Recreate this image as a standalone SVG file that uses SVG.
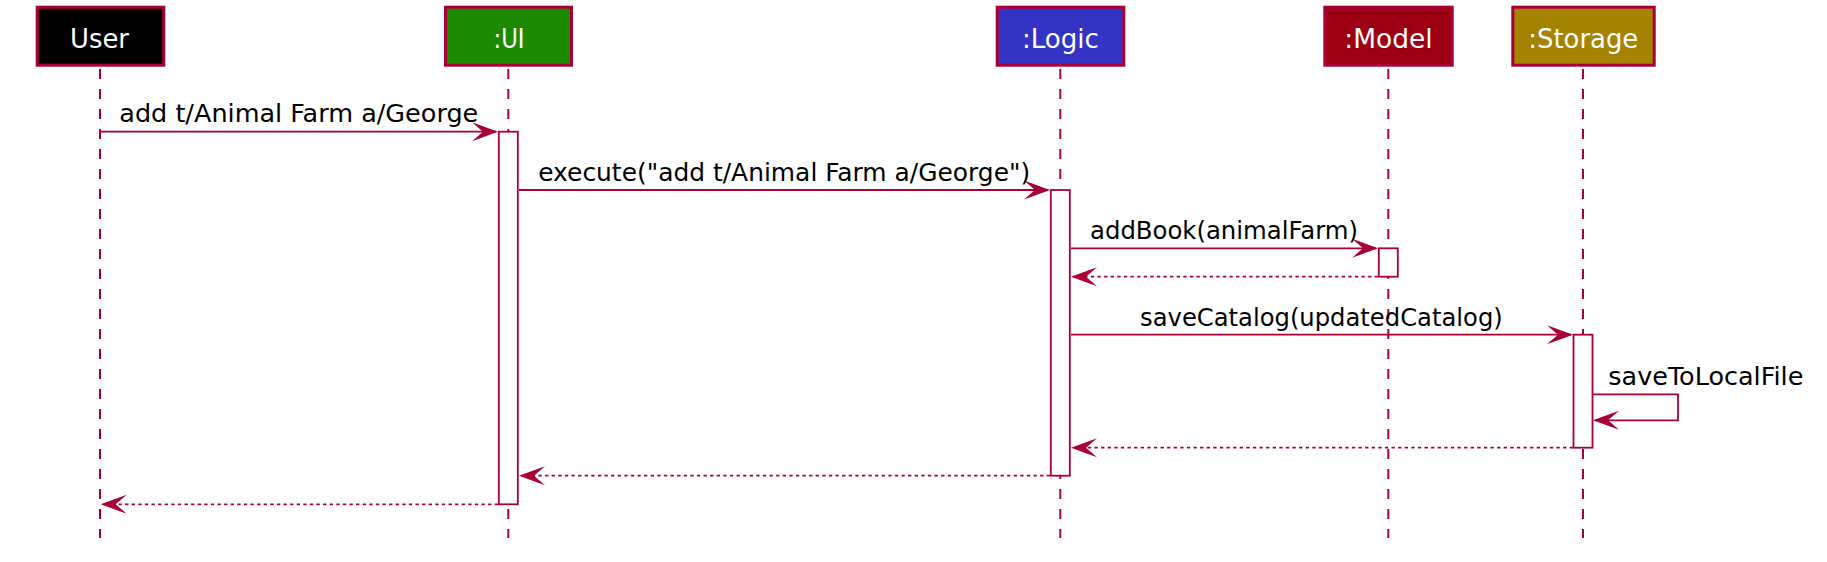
<svg xmlns="http://www.w3.org/2000/svg" width="1827" height="562" viewBox="0 0 1827 562">
<style>
.hdr{stroke:#A80036;stroke-width:3}
.ht{font-family:"DejaVu Sans","Liberation Sans",sans-serif;font-size:26px;fill:#FFFFFF;text-anchor:middle}
.life{stroke:#A80036;stroke-width:2;stroke-dasharray:10,10;fill:none}
.act{fill:#FFFFFF;stroke:#A80036;stroke-width:1.8}
.msg{stroke:#A80036;stroke-width:1.8;fill:none;marker-end:url(#ah)}
.ret{stroke:#A80036;stroke-width:1.8;fill:none;stroke-dasharray:3.3,3.3;marker-end:url(#ah)}
.mt{font-family:"DejaVu Sans","Liberation Sans",sans-serif;font-size:25px;fill:#000000;text-anchor:middle}
</style>
<defs>
<marker id="ah" markerUnits="userSpaceOnUse" markerWidth="28" markerHeight="21" viewBox="0 0 28 21" refX="24" refY="10.5" orient="auto">
<path d="M26,10.5 L0,1 L11,10.5 L0,20 Z" fill="#A80036" stroke="none"/>
</marker>
</defs>
<rect width="1827" height="562" fill="#FFFFFF"/>
<g id="lifelines">
<line class="life" x1="100" y1="69" x2="100" y2="538"/>
<line class="life" x1="508.3" y1="69" x2="508.3" y2="538"/>
<line class="life" x1="1060.3" y1="69" x2="1060.3" y2="538"/>
<line class="life" x1="1388.3" y1="69" x2="1388.3" y2="538"/>
<line class="life" x1="1583" y1="69" x2="1583" y2="538"/>
</g>
<g id="user">
<rect class="hdr" x="37.2" y="7.2" width="126.6" height="58" fill="#000000"/>
<text class="ht" x="99.5" y="47.5" textLength="59" lengthAdjust="spacingAndGlyphs">User</text>
</g>
<g id="ui">
<rect class="hdr" x="445.5" y="7.2" width="126" height="58" fill="#1D8900"/>
<text class="ht" x="509" y="47.5" textLength="31" lengthAdjust="spacingAndGlyphs">:UI</text>
<rect class="act" x="498.8" y="131.7" width="19" height="372.6"/>
</g>
<g id="logic">
<rect class="hdr" x="997.2" y="7.2" width="126.6" height="58" fill="#3333C4"/>
<text class="ht" x="1060.4" y="47.5" textLength="77" lengthAdjust="spacingAndGlyphs">:Logic</text>
<rect class="act" x="1050.8" y="190" width="19" height="285.7"/>
</g>
<g id="model">
<rect class="hdr" x="1324.8" y="7.2" width="127.4" height="58" fill="#9D0012"/>
<text class="ht" x="1388.5" y="47.5" textLength="88.4" lengthAdjust="spacingAndGlyphs">:Model</text>
<rect class="act" x="1378.8" y="248.3" width="19" height="28.4"/>
</g>
<g id="storage">
<rect class="hdr" x="1512.8" y="7.2" width="141.4" height="58" fill="#A38300"/>
<text class="ht" x="1583.3" y="47.5" textLength="110" lengthAdjust="spacingAndGlyphs">:Storage</text>
<rect class="act" x="1573.5" y="334.7" width="19" height="113"/>
</g>
<g id="connectors">
<line class="msg" x1="100" y1="131.7" x2="496" y2="131.7"/>
<line class="msg" x1="519" y1="190" x2="1048" y2="190"/>
<line class="msg" x1="1071" y1="248.3" x2="1376" y2="248.3"/>
<line class="ret" x1="1378" y1="276.7" x2="1073" y2="276.7"/>
<line class="msg" x1="1071" y1="334.7" x2="1571" y2="334.7"/>
<path class="msg" d="M1593,394.3 H1678 V420.3 H1595"/>
<line class="ret" x1="1573" y1="447.7" x2="1073" y2="447.7"/>
<line class="ret" x1="1050" y1="475.7" x2="521" y2="475.7"/>
<line class="ret" x1="498" y1="504.3" x2="102.7" y2="504.3"/>
</g>
<g id="labels">
<text class="mt" x="298.8" y="122.4" textLength="359" lengthAdjust="spacingAndGlyphs">add t/Animal Farm a/George</text>
<text class="mt" x="784.2" y="180.8" textLength="492" lengthAdjust="spacingAndGlyphs">execute("add t/Animal Farm a/George")</text>
<text class="mt" x="1224" y="239.1" textLength="268" lengthAdjust="spacingAndGlyphs">addBook(animalFarm)</text>
<text class="mt" x="1321.4" y="325.5" textLength="362.7" lengthAdjust="spacingAndGlyphs">saveCatalog(updatedCatalog)</text>
<text class="mt" x="1705.8" y="385" textLength="195" lengthAdjust="spacingAndGlyphs">saveToLocalFile</text>
</g>
</svg>
